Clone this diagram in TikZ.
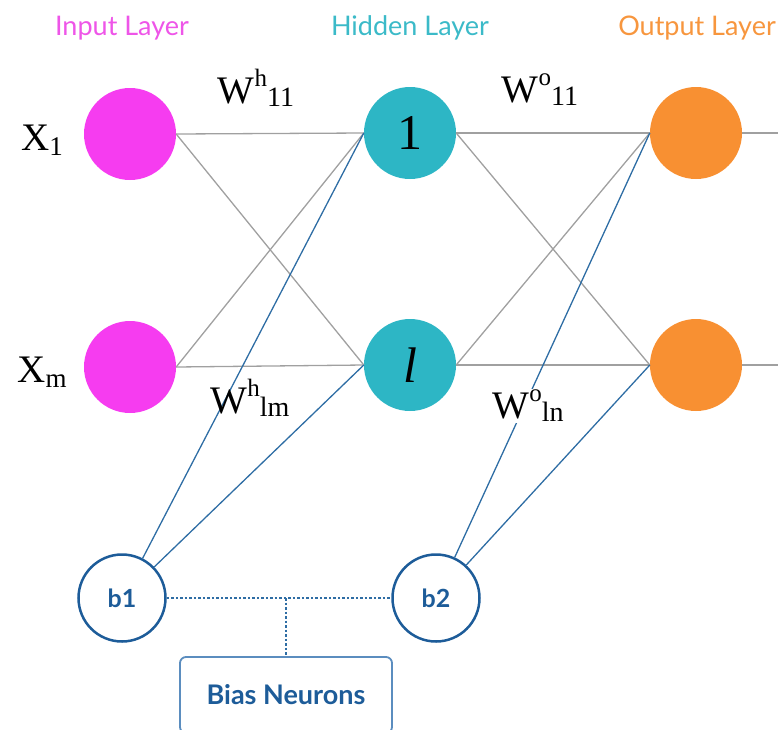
\documentclass[tikz,border=0pt]{standalone}
\usepackage{fontspec}
\setmainfont{Liberation Serif}
\newfontfamily\latofont{Lato}
\usetikzlibrary{arrows.meta}

\definecolor{inmag}{RGB}{246,60,240}
\definecolor{hidteal}{RGB}{45,182,197}
\definecolor{outorange}{RGB}{248,144,50}
\definecolor{intitle}{RGB}{238,85,232}
\definecolor{hidtitle}{RGB}{59,186,200}
\definecolor{outtitle}{RGB}{247,150,62}
\definecolor{wiregray}{RGB}{160,160,160}
\definecolor{linkblue}{RGB}{46,109,164}
\definecolor{biasblue}{RGB}{29,92,153}
\definecolor{boxblue}{RGB}{91,141,191}

% weight label: W, superscript, subscript
\newcommand{\wgt}[2]{W\raisebox{17pt}{\fontsize{25}{25}\selectfont #1}\raisebox{-3pt}{\fontsize{28}{28}\selectfont #2}}
\newcommand{\lowidx}[1]{\raisebox{-5pt}{\fontsize{27}{27}\selectfont #1}}

\begin{document}
\begin{tikzpicture}[x=1pt, y=-1pt,
    main/.style = {circle, minimum size=92pt, inner sep=0pt},
    bias/.style = {draw=biasblue, line width=2.5pt, circle, fill=white, minimum size=87pt, inner sep=0pt, text=biasblue, font=\latofont\bfseries\fontsize{25}{25}\selectfont},
    wire/.style = {wiregray, line width=1.3pt},
    bwire/.style = {linkblue, line width=1.3pt},
    dots/.style = {linkblue, line width=1.6pt, dash pattern=on 2.5pt off 2pt},
    title/.style = {font=\latofont\fontsize{27}{27}\selectfont},
    lab/.style = {font=\fontsize{39}{39}\selectfont, inner sep=1pt}]
    \useasboundingbox (0,0) rectangle (782,729);
    \clip (0,0) rectangle (782,729);

    % layer titles
    \node[title, text=intitle] (tin) at (122,28) {Input Layer};
    \node[title, text=hidtitle] (thid) at (410,28) {Hidden Layer};
    \node[title, text=outtitle] (tout) at (697,28) {Output Layer};

    % neurons
    \node[main, fill=inmag] (x1) at (130,134) {};
    \node[main, fill=inmag] (xm) at (130,367) {};
    \node[main, fill=hidteal, font=\fontsize{50}{50}\selectfont] (h1) at (410,133) {1};
    \node[main, fill=hidteal, font=\fontsize{50}{50}\selectfont] (hl) at (410,365) {\textit{l}};
    \node[main, fill=outorange] (o1) at (696,133) {};
    \node[main, fill=outorange] (o2) at (696,365) {};
    \coordinate (y1) at (778,133);
    \coordinate (y2) at (778,365);

    \node[bias] (b1) at (122,598) {b1};
    \node[bias] (b2) at (436,598) {b2};
    \coordinate (bmid) at (286,598);
    \node[draw=boxblue, line width=1.8pt, rounded corners=6pt, minimum width=212pt, minimum height=76pt, text=biasblue, font=\latofont\bfseries\fontsize{27}{27}\selectfont] (bn) at (286,695) {Bias Neurons};

    % connections
    \foreach \a in {x1,xm}
        \foreach \b in {h1,hl}
            \draw[wire] (\a.east) -- (\b.west);
    \foreach \a in {h1,hl}
        \foreach \b in {o1,o2}
            \draw[wire] (\a.east) -- (\b.west);
    \draw[wire] (o1) -- (y1);
    \draw[wire] (o2) -- (y2);

    \foreach \b in {h1,hl}
        \draw[bwire] (b1) -- (\b.west);
    \foreach \b in {o1,o2}
        \draw[bwire] (b2) -- (\b.west);

    \draw[dots] (b1) -- (b2);
    \draw[dots] (bmid) -- (bn);

    % labels
    \node[lab] (lx1) at (42,140) {X\lowidx{1}};
    \node[lab] (lxm) at (42,372) {X\lowidx{m}};
    \node[lab] (wh11) at (256,88) {\wgt{h}{11}};
    \node[lab] (wo11) at (540,90) {\wgt{o}{11}};
    \node[lab] (whlm) at (250,398) {\wgt{h}{lm}};
    \node[lab, fill=white] (woln) at (528,406) {\wgt{o}{ln}};
\end{tikzpicture}
\end{document}
